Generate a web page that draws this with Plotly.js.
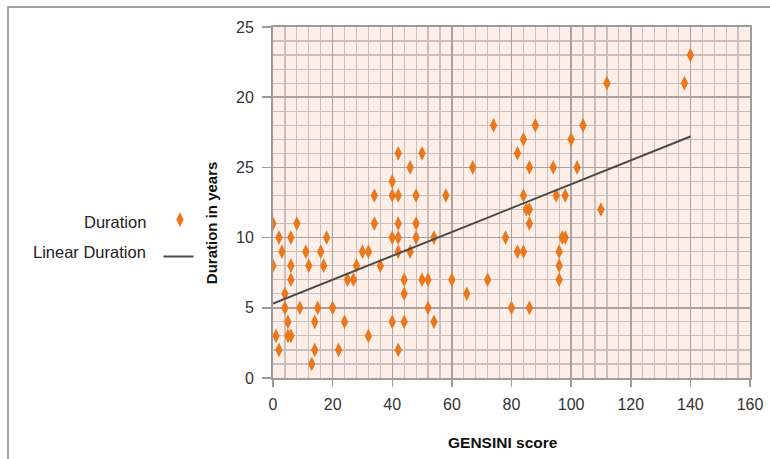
<!DOCTYPE html>
<html>
<head>
<meta charset="utf-8">
<script src="https://cdn.plot.ly/plotly-3.0.1.min.js"></script>
<style>
  html, body { margin: 0; padding: 0; background: #ffffff; }
  #wrap { position: relative; width: 770px; height: 459px; overflow: hidden; }
  #chart { position: absolute; left: 0; top: 0; width: 770px; height: 459px; }
  #frame { position: absolute; left: 7px; top: 6px; right: -4px; bottom: -4px;
           border-left: 2px solid #a3a3a3; border-top: 2px solid #a3a3a3; pointer-events: none; }
</style>
</head>
<body>
<div id="wrap">
  <div id="chart"></div>
  <div id="frame"></div>
</div>
<script>
// GENSINI score (x) and Duration in years (y)
const gensini = [
  0, 8, 2, 6, 18, 3, 11, 16, 0, 6, 12, 17, 6, 4, 4, 9, 15, 20, 5, 14, 1, 5, 6, 2, 14, 13,
  24, 22, 25, 27, 28, 30, 32, 32, 34, 34, 36,
  40, 40, 42, 48, 58, 42, 50, 46, 67, 74,
  42, 48, 40, 42, 48, 54, 42, 46, 44, 50, 52, 60, 72, 44, 65, 52, 40, 44, 54, 42,
  78, 80, 82, 84, 88, 86, 84, 85, 86, 86, 82, 84, 86, 94, 95, 98, 100, 102, 104, 97, 98, 96, 96, 96, 110, 112, 138, 140
];
const duration = [
  11, 11, 10, 10, 10, 9, 9, 9, 8, 8, 8, 8, 7, 6, 5, 5, 5, 5, 4, 4, 3, 3, 3, 2, 2, 1,
  4, 2, 7, 7, 8, 9, 9, 3, 13, 11, 8,
  14, 13, 13, 13, 13, 16, 16, 15, 15, 18,
  11, 11, 10, 10, 10, 10, 9, 9, 7, 7, 7, 7, 7, 6, 6, 5, 4, 4, 4, 2,
  10, 5, 16, 17, 18, 15, 13, 12, 12, 11, 9, 9, 5, 15, 13, 13, 17, 15, 18, 10, 10, 9, 8, 7, 12, 21, 21, 23
];
// Linear trend line end points
const trendX = [0, 140];
const trendY = [5.3, 17.2];

// Axis ticks (the reference labels the 15 tick as "25")
const xTickVals = [0, 20, 40, 60, 80, 100, 120, 140, 160];
const xTickText = ['0', '20', '40', '60', '80', '100', '120', '140', '160'];
const yTickVals = [0, 5, 10, 15, 20, 25];
const yTickText = ['0', '5', '10', '25', '20', '25'];

const seriesNames = ['Duration', 'Linear Duration'];
const xTitle = 'GENSINI score';
const yTitle = 'Duration in years';

const FONT = 'Liberation Sans, Arial, sans-serif';

const traces = [
  {
    x: gensini, y: duration, type: 'scatter', mode: 'markers', name: ' ',
    legend: 'legend',
    marker: { symbol: 'diamond-tall', size: 10.5, color: '#e9781c' },
    hoverinfo: 'skip'
  },
  {
    x: trendX, y: trendY, type: 'scatter', mode: 'lines', name: ' ',
    legend: 'legend2',
    line: { color: '#4a4a4a', width: 2 },
    hoverinfo: 'skip'
  }
];

const axisCommon = {
  showline: true, linecolor: '#9c9c9c', linewidth: 2, mirror: true,
  ticks: 'outside', tickcolor: '#9c9c9c', tickwidth: 1.5,
  zeroline: false, showgrid: true, gridcolor: '#a9a2a0', gridwidth: 1.5,
  tickfont: { family: FONT, size: 16, color: '#333333' },
  tickmode: 'array', fixedrange: true
};

const layout = {
  width: 770, height: 459,
  margin: { l: 273, r: 20, t: 27, b: 81, pad: 0 },
  paper_bgcolor: 'rgba(0,0,0,0)',
  plot_bgcolor: '#fdeee8',
  font: { family: FONT, color: '#222222' },
  showlegend: true,
  xaxis: Object.assign({}, axisCommon, {
    range: [0, 160], tickvals: xTickVals, ticktext: xTickText,
    ticklen: 7, ticklabelstandoff: 4,
    minor: { tickmode: 'linear', tick0: 0, dtick: 4, showgrid: true, gridcolor: '#c9c0bd', gridwidth: 1.2, ticks: '' }
  }),
  yaxis: Object.assign({}, axisCommon, {
    range: [0, 25], tickvals: yTickVals, ticktext: yTickText,
    ticklen: 9, ticklabelstandoff: 5,
    minor: { tickmode: 'linear', tick0: 0, dtick: 1, showgrid: true, gridcolor: '#c9c0bd', gridwidth: 1.2, ticks: '' }
  }),
  legend: {
    x: -0.237, xanchor: 'left', y: 0.450, yanchor: 'middle',
    bgcolor: 'rgba(0,0,0,0)', borderwidth: 0, font: { family: FONT, size: 14 }
  },
  legend2: {
    x: -0.240, xanchor: 'left', y: 0.345, yanchor: 'middle', itemwidth: 30,
    bgcolor: 'rgba(0,0,0,0)', borderwidth: 0, font: { family: FONT, size: 14 }
  },
  annotations: [
    { text: seriesNames[0], xref: 'paper', yref: 'paper', x: -0.262, y: 0.444,
      xanchor: 'right', yanchor: 'middle', showarrow: false,
      font: { family: FONT, size: 16.5, color: '#222222' } },
    { text: seriesNames[1], xref: 'paper', yref: 'paper', x: -0.262, y: 0.359,
      xanchor: 'right', yanchor: 'middle', showarrow: false,
      font: { family: FONT, size: 16.5, color: '#222222' } },
    { text: yTitle, xref: 'paper', yref: 'paper', x: -0.130, y: 0.444,
      xanchor: 'center', yanchor: 'middle', textangle: -90, showarrow: false,
      font: { family: FONT, size: 15, color: '#111111', weight: 'bold' } },
    { text: xTitle, xref: 'paper', yref: 'paper', x: 0.482, y: -0.185,
      xanchor: 'center', yanchor: 'middle', showarrow: false,
      font: { family: FONT, size: 15.5, color: '#111111', weight: 'bold' } }
  ]
};

Plotly.newPlot('chart', traces, layout, { staticPlot: true, displayModeBar: false });
</script>
</body>
</html>
